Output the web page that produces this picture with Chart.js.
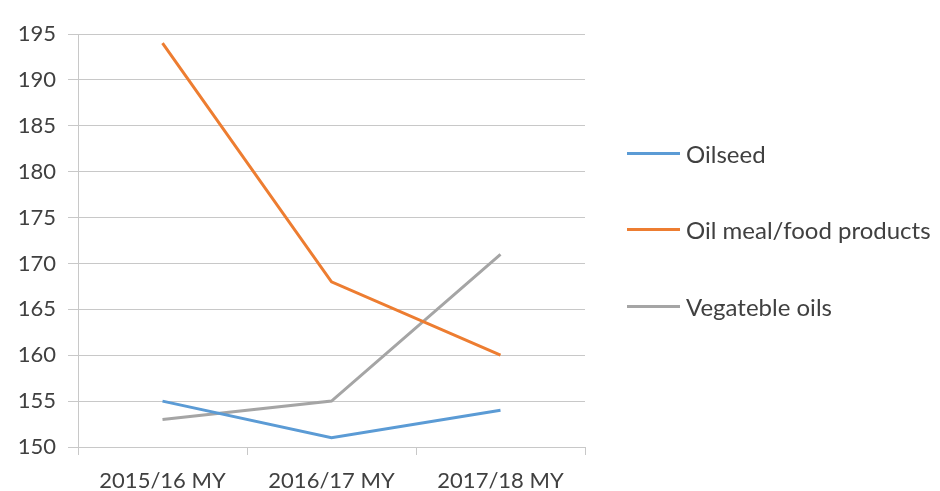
<!DOCTYPE html>
<html>
<head>
<meta charset="utf-8">
<script src="https://cdn.jsdelivr.net/npm/chart.js@4/dist/chart.umd.min.js"></script>
<style>
    html, body { margin: 0; padding: 0; background: #fff; }
    #wrap { position: relative; width: 940px; height: 491px; }
    #legend { position: absolute; left: 627px; top: 0; font-family: Lato, sans-serif; font-size: 24px; color: #404040; }
    .item { position: absolute; white-space: nowrap; display: flex; align-items: center; }
    .swatch { width: 53px; height: 3px; margin-right: 6px; }
</style>
</head>
<body>
<div id="wrap">
    <canvas id="chart" width="940" height="491"></canvas>
    <div id="legend"></div>
</div>
<script>
// categories and series
var years = ['2015/16 MY', '2016/17 MY', '2017/18 MY'];
var seriesNames = ['Oilseed', 'Oil meal/food products', 'Vegateble oils'];
var oilseed = [155, 151, 154];
var oilMeal = [194, 168, 160];
var vegOils = [153, 155, 171];
var colors = ['#5B9BD5', '#ED7D31', '#A5A5A5'];

var textColor = '#404040';
var gridColor = '#c8c8c8';

var values = [oilseed, oilMeal, vegOils];
var datasets = values.map(function(v, i) {
    return {
        label: seriesNames[i],
        data: v,
        borderColor: colors[i],
        backgroundColor: colors[i],
        borderWidth: 3,
        pointRadius: 0,
        tension: 0
    };
});

// legend on the right, built from the same names
var legendEl = document.getElementById('legend');
var legendRows = [154, 230, 307];
seriesNames.forEach(function(name, i) {
    var item = document.createElement('div');
    item.className = 'item';
    item.style.top = (legendRows[i] - 15) + 'px';
    item.innerHTML = '<span class="swatch" style="background:' + colors[i] + '"></span><span>' + name + '</span>';
    legendEl.appendChild(item);
});

var ctx = document.getElementById('chart').getContext('2d');
var chart = new Chart(ctx, {
    type: 'line',
    data: { labels: years, datasets: datasets },
    options: {
        responsive: false,
        animation: false,
        layout: { padding: { top: 34, right: 355, left: 0, bottom: 0 } },
        plugins: { legend: { display: false }, tooltip: { enabled: false } },
        scales: {
            x: {
                offset: true,
                grid: { offset: true, drawOnChartArea: false, color: gridColor, tickLength: 8 },
                border: { color: gridColor },
                ticks: { color: textColor, font: { family: 'Lato', size: 22 }, padding: 13 },
                afterFit: function(scale) { scale.height = 44; }
            },
            y: {
                min: 150,
                max: 195,
                ticks: { stepSize: 5, color: textColor, font: { family: 'Lato', size: 22 }, padding: 12 },
                grid: { color: gridColor, tickLength: 10 },
                border: { color: gridColor },
                afterFit: function(scale) { scale.width = 78; }
            }
        }
    }
});
</script>
</body>
</html>
